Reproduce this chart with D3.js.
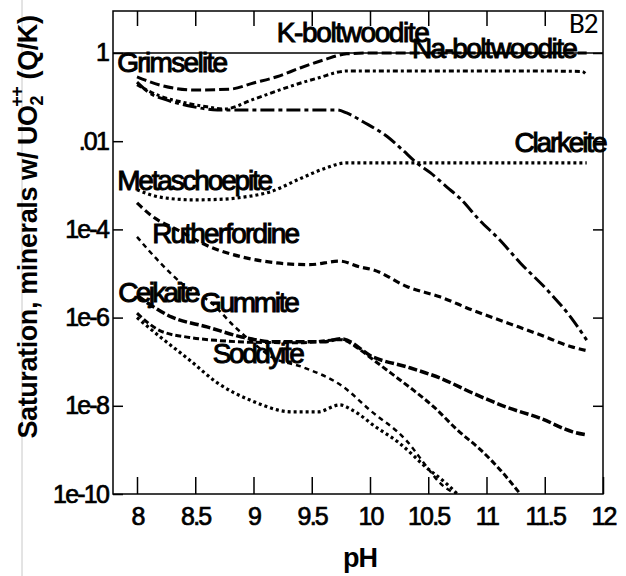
<!DOCTYPE html>
<html>
<head>
<meta charset="utf-8">
<script src="https://cdn.jsdelivr.net/npm/d3@7"></script>
<style>
body { margin: 0; background: #fff; }
svg { display: block; }
text { font-family: "Liberation Sans", Arial, sans-serif; fill: #000; }
</style>
</head>
<body>
<svg width="626" height="576"></svg>
<script>
// pH values and log10(Q/K), one pair of arrays per curve
var kBoltPH  = [8.0, 8.2, 8.5, 8.8, 9.0, 9.2, 9.4, 9.6, 9.8, 10.0, 10.5, 11.0, 11.5, 11.86];
var kBoltLog = [-0.54, -0.73, -0.84, -0.82, -0.68, -0.54, -0.34, -0.16, -0.02, 0, 0, 0, 0, 0];

var naBoltPH  = [8.0, 8.2, 8.4, 8.6, 8.75, 9.0, 9.3, 9.55, 9.8, 10.5, 11.0, 11.5, 11.82, 11.86];
var naBoltLog = [-0.72, -0.98, -1.12, -1.22, -1.27, -1.05, -0.77, -0.57, -0.41, -0.41, -0.41, -0.41, -0.42, -0.5];

var grimPH  = [8.0, 8.11, 8.26, 8.45, 8.69, 9.0, 9.4, 9.72, 9.8, 9.94, 10.15, 10.28, 10.4, 10.52, 10.66, 10.77, 10.94, 11.1, 11.29, 11.52, 11.74, 11.86];
var grimLog = [-0.66, -0.91, -1.07, -1.2, -1.29, -1.29, -1.29, -1.29, -1.36, -1.56, -1.9, -2.2, -2.49, -2.72, -3.04, -3.29, -3.79, -4.2, -4.76, -5.37, -6.05, -6.51];

var clarkPH  = [8.0, 8.2, 8.48, 8.7, 8.91, 9.14, 9.4, 9.6, 9.8, 10.5, 11.0, 11.5, 11.86];
var clarkLog = [-3.1, -3.27, -3.33, -3.32, -3.27, -3.15, -2.85, -2.63, -2.49, -2.49, -2.49, -2.49, -2.49];

var ruthPH  = [8.0, 8.14, 8.34, 8.63, 8.91, 9.2, 9.48, 9.74, 9.91, 10.03, 10.32, 10.6, 10.88, 11.18, 11.46, 11.74, 11.86];
var ruthLog = [-3.4, -3.72, -4.0, -4.4, -4.63, -4.76, -4.8, -4.72, -4.85, -4.92, -5.3, -5.53, -5.83, -6.12, -6.39, -6.67, -6.75];

var gummPH  = [8.0, 8.2, 8.4, 8.64, 8.84, 9.0, 9.16, 9.42, 9.77, 10.0, 10.31, 10.51, 10.6, 10.74];
var gummLog = [-4.17, -4.76, -5.26, -5.67, -6.21, -6.58, -6.9, -7.12, -7.57, -8.1, -8.78, -9.46, -9.75, -10.0];

var cejkPH  = [8.0, 8.3, 8.6, 8.9, 9.18, 9.6, 9.75, 10.03, 10.32, 10.6, 10.88, 11.17, 11.46, 11.74, 11.86];
var cejkLog = [-5.5, -5.99, -6.21, -6.44, -6.55, -6.55, -6.48, -6.9, -7.12, -7.37, -7.71, -8.03, -8.28, -8.59, -8.66];

var uranPH  = [8.0, 8.2, 8.45, 8.7, 9.0, 9.4, 9.75, 9.9, 10.03, 10.18, 10.37, 10.55, 10.75, 10.95, 11.12, 11.29];
var uranLog = [-5.9, -6.3, -6.45, -6.52, -6.56, -6.57, -6.5, -6.7, -6.96, -7.26, -7.64, -8.03, -8.55, -9.0, -9.46, -10.0];

var soddPH  = [8.0, 8.2, 8.45, 8.69, 8.97, 9.34, 9.55, 9.74, 9.85, 10.05, 10.25, 10.48, 10.65, 10.75];
var soddLog = [-6.0, -6.44, -6.96, -7.48, -7.87, -8.14, -8.14, -7.98, -8.1, -8.48, -8.84, -9.39, -9.75, -10.0];

var xTicks = [8, 8.5, 9, 9.5, 10, 10.5, 11, 11.5, 12];
var yTicks = [1, 1e-2, 1e-4, 1e-6, 1e-8, 1e-10];
var yTickLabels = ["1", ".01", "1e-4", "1e-6", "1e-8", "1e-10"];

var labelNames = ["K-boltwoodite", "Na-boltwoodite", "Grimselite", "Clarkeite", "Metaschoepite",
                  "Rutherfordine", "Cejkaite", "Gummite", "Soddyite"];
var labelPH  = [9.20, 10.36, 7.83, 11.24, 7.83, 8.13, 7.84, 8.54, 8.65];
var labelLog = [0.25, -0.11, -0.43, -2.24, -3.11, -4.31, -5.65, -5.87, -7.03];
// printed widths of the labels in px (they are squeezed in the original)
var labelWidth = [153, 166, 111, 93, 156, 148, 82, 100, 92];

var svg = d3.select("svg");

var plotL = 113, plotR = 603, plotT = 11, plotB = 494;

var x = d3.scaleLinear()
    .domain([7.794, 12])
    .range([plotL, plotR]);

var y = d3.scaleLog()
    .domain([1e-10, Math.pow(10, 0.952)])
    .range([plotB, plotT]);

// faint gray line at the far left of the picture
svg.append("line")
    .attr("x1", 22).attr("x2", 22)
    .attr("y1", 0).attr("y2", 576)
    .attr("stroke", "#c8c8c8")
    .attr("stroke-width", 1);

svg.append("clipPath").attr("id", "plotClip")
  .append("rect")
    .attr("x", plotL).attr("y", plotT)
    .attr("width", plotR - plotL).attr("height", plotB - plotT);

// Q/K = 1 line
svg.append("line")
    .attr("x1", plotL).attr("x2", plotR)
    .attr("y1", y(1)).attr("y2", y(1))
    .attr("stroke", "#000")
    .attr("stroke-width", 1.5);

var curves = [
    { ph: kBoltPH,  lg: kBoltLog,  dash: "10,4",         w: 3 },
    { ph: naBoltPH, lg: naBoltLog, dash: "5,3,3,3",      w: 3 },
    { ph: grimPH,   lg: grimLog,   dash: "14,4,4,4",     w: 3 },
    { ph: clarkPH,  lg: clarkLog,  dash: "3,3",          w: 3.2 },
    { ph: ruthPH,   lg: ruthLog,   dash: "7,4",          w: 3.2 },
    { ph: gummPH,   lg: gummLog,   dash: "5,4",          w: 2.5 },
    { ph: cejkPH,   lg: cejkLog,   dash: "9,3",          w: 3.5 },
    { ph: uranPH,   lg: uranLog,   dash: "6,3",          w: 3 },
    { ph: soddPH,   lg: soddLog,   dash: "3,3",          w: 3.2 }
];

var line = d3.line()
    .x(function(d) { return x(d[0]); })
    .y(function(d) { return y(Math.pow(10, d[1])); })
    .curve(d3.curveMonotoneX);

svg.append("g")
    .attr("clip-path", "url(#plotClip)")
  .selectAll("path")
    .data(curves)
  .enter().append("path")
    .attr("d", function(c) { return line(d3.zip(c.ph, c.lg)); })
    .attr("fill", "none")
    .attr("stroke", "#000")
    .attr("stroke-width", function(c) { return c.w; })
    .attr("stroke-dasharray", function(c) { return c.dash; });

// axes, all ticks pointing inward
var xBottom = d3.axisBottom(x).tickValues(xTicks).tickSize(-17).tickPadding(13)
    .tickFormat(d3.format("~g"));
var xTop = d3.axisTop(x).tickValues(xTicks.slice(0, -1)).tickSize(-15).tickFormat("");
var yLeft = d3.axisLeft(y).tickValues(yTicks).tickSize(-10).tickPadding(5)
    .tickFormat(function(d, i) { return yTickLabels[i]; });
var yRight = d3.axisRight(y).tickValues(yTicks.slice(0, -1)).tickSize(-10).tickFormat("");

function styleAxis(g) {
    g.select(".domain").remove();
    g.selectAll(".tick line").attr("stroke", "#000").attr("stroke-width", 1.5);
    g.selectAll(".tick text")
        .style("font-size", "25px")
        .style("letter-spacing", "-1.8px")
        .attr("stroke", "#000").attr("stroke-width", 0.7);
}

svg.append("g").attr("transform", "translate(0," + plotB + ")").call(xBottom).call(styleAxis);
svg.append("g").attr("transform", "translate(0," + plotT + ")").call(xTop).call(styleAxis);
svg.append("g").attr("transform", "translate(" + plotL + ",0)").call(yLeft).call(styleAxis);
svg.append("g").attr("transform", "translate(" + plotR + ",0)").call(yRight).call(styleAxis);

svg.append("rect")
    .attr("x", plotL).attr("y", plotT)
    .attr("width", plotR - plotL).attr("height", plotB - plotT)
    .attr("fill", "none")
    .attr("stroke", "#000")
    .attr("stroke-width", 1.5);

// mineral labels
svg.append("g").selectAll("text")
    .data(labelNames)
  .enter().append("text")
    .attr("x", function(d, i) { return x(labelPH[i]); })
    .attr("y", function(d, i) { return y(Math.pow(10, labelLog[i])); })
    .attr("textLength", function(d, i) { return labelWidth[i]; })
    .attr("lengthAdjust", "spacing")
    .style("font-size", "28px")
    .attr("stroke", "#000").attr("stroke-width", 1)
    .text(function(d) { return d; });

// axis titles
svg.append("text")
    .attr("x", 360).attr("y", 567)
    .attr("text-anchor", "middle")
    .style("font-size", "27px")
    .style("font-weight", "bold")
    .style("letter-spacing", "-1px")
    .text("pH");

var yTitle = svg.append("text")
    .attr("transform", "translate(37,227) rotate(-90)")
    .attr("text-anchor", "middle")
    .style("font-size", "27px")
    .style("font-weight", "bold")
    .style("letter-spacing", "-0.4px");
yTitle.append("tspan").text("Saturation, minerals w/ UO");
yTitle.append("tspan").attr("dy", 6).style("font-size", "18px").text("2");
yTitle.append("tspan").attr("dx", -11).attr("dy", -20).style("font-size", "18px").text("++");
yTitle.append("tspan").attr("dy", 14).text(" (Q/K)");

svg.append("text")
    .attr("x", 569).attr("y", 33)
    .style("font-family", "Carlito, Lato, 'Open Sans', sans-serif")
    .style("font-size", "29px")
    .style("letter-spacing", "-1px")
    .text("B2");
</script>
</body>
</html>
